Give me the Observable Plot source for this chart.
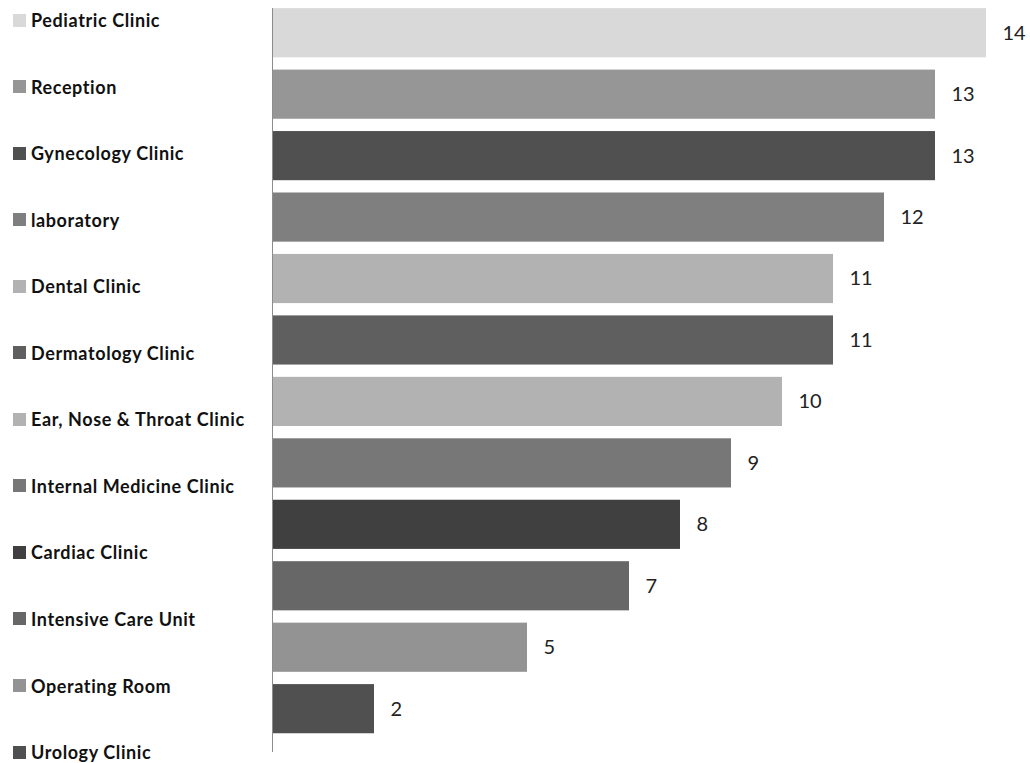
<!DOCTYPE html>
<html>
<head>
<meta charset="utf-8">
<script src="https://cdn.jsdelivr.net/npm/d3@7"></script>
<script src="https://cdn.jsdelivr.net/npm/@observablehq/plot@0.6"></script>
<style>
  html, body { margin: 0; padding: 0; background: #fff; }
  #wrap { position: relative; width: 1030px; height: 763px; overflow: hidden; }
  #legend { position: absolute; left: 0; top: 0; width: 272px; height: 763px; font-family: Lato, "Open Sans", sans-serif; font-size: 18px; font-weight: 700; letter-spacing: 0.6px; color: #111; }
  .item { position: absolute; left: 13px; display: flex; align-items: center; height: 20px; white-space: nowrap; }
  .sw { width: 13px; height: 13px; margin-right: 5px; flex: none; }
  #chart { position: absolute; left: 0; top: 0; }
</style>
</head>
<body>
<div id="wrap">
  <div id="chart"></div>
  <div id="legend"></div>
</div>
<script>
const categories = [
  "Pediatric Clinic", "Reception", "Gynecology Clinic", "laboratory",
  "Dental Clinic", "Dermatology Clinic", "Ear, Nose & Throat Clinic",
  "Internal Medicine Clinic", "Cardiac Clinic", "Intensive Care Unit",
  "Operating Room", "Urology Clinic"
];
const values = [14, 13, 13, 12, 11, 11, 10, 9, 8, 7, 5, 2];
const colors = [
  "#d9d9d9", "#969696", "#505050", "#7f7f7f",
  "#b2b2b2", "#5f5f5f", "#b2b2b2", "#777777",
  "#404040", "#676767", "#939393", "#505050"
];

const data = categories.map((c, i) => ({ name: c, value: values[i], color: colors[i] }));

const chart = Plot.plot({
  width: 1030,
  height: 763,
  marginLeft: 272,
  marginRight: 44,
  marginTop: 2,
  marginBottom: 11,
  x: { domain: [0, 14], axis: null },
  y: { domain: categories, axis: null, paddingInner: 0.2, paddingOuter: 0.1, insetBottom: 12.6, round: false },
  color: { type: "identity" },
  marks: [
    Plot.barX(data, { y: "name", x: "value", fill: "color" }),
    Plot.ruleX([0], { stroke: "#8c8c8c", strokeWidth: 1, insetTop: 6 }),
    Plot.text(data, {
      y: "name", x: "value", text: d => String(d.value),
      dx: 16, textAnchor: "start", fill: "#222",
      fontSize: 20, fontFamily: "Lato, 'Open Sans', sans-serif"
    })
  ]
});
document.getElementById("chart").appendChild(chart);

const legend = document.getElementById("legend");
const pitch = 66.55;
categories.forEach((c, i) => {
  const item = document.createElement("div");
  item.className = "item";
  item.style.top = (10 + i * pitch) + "px";
  const sw = document.createElement("span");
  sw.className = "sw";
  sw.style.background = colors[i];
  const t = document.createElement("span");
  t.textContent = c;
  item.appendChild(sw);
  item.appendChild(t);
  legend.appendChild(item);
});
</script>
</body>
</html>
